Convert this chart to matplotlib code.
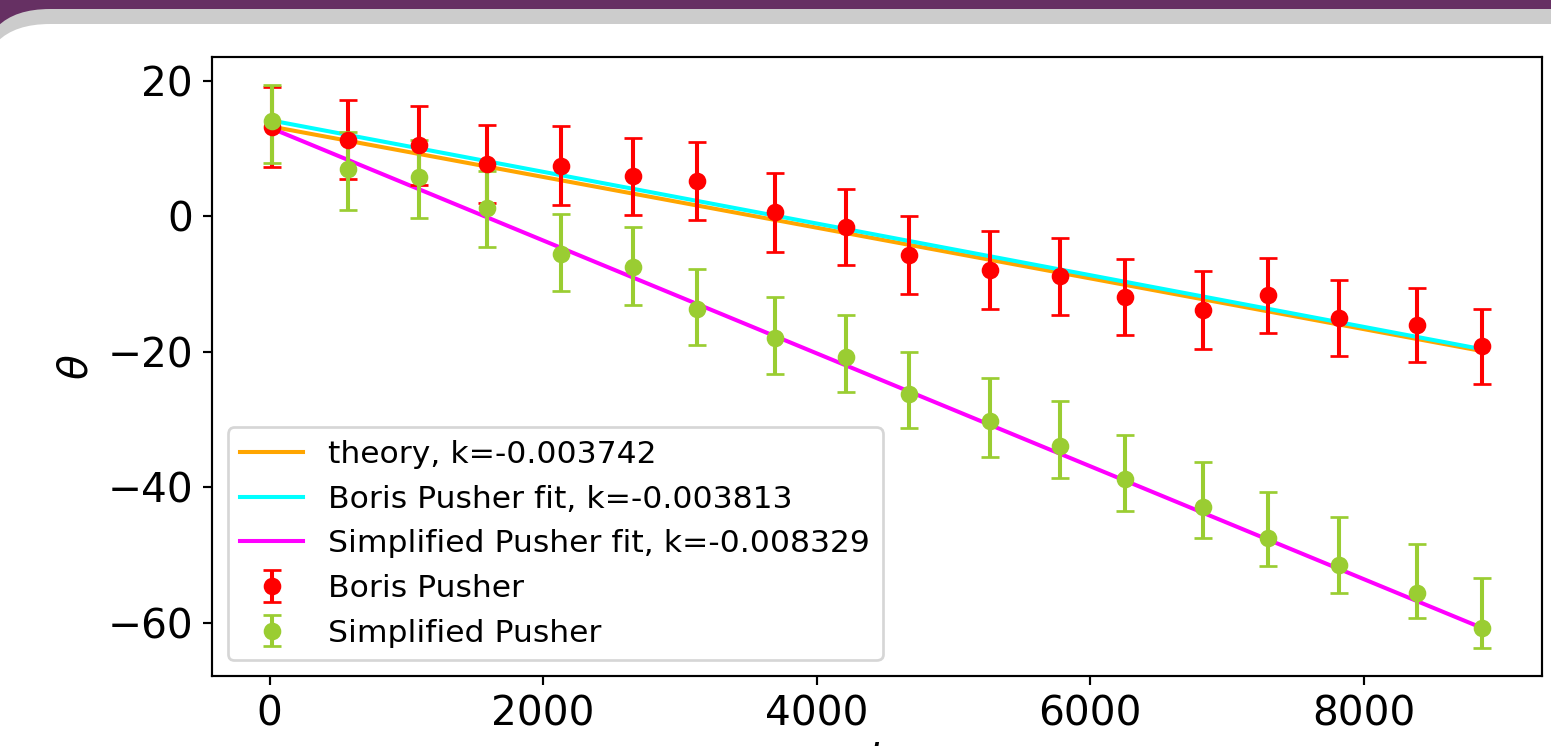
import matplotlib

matplotlib.use("Agg")
import matplotlib.pyplot as plt
from matplotlib.patches import FancyBboxPatch, Rectangle
import numpy as np

# sample times (shared by both pushers)
t = [20, 572, 1095, 1588, 2130, 2654, 3128, 3695, 4217, 4678,
     5268, 5782, 6258, 6828, 7303, 7822, 8392, 8863]

boris_theta = [13.20, 11.34, 10.50, 7.73, 7.50, 5.92, 5.18, 0.59, -1.58, -5.72,
               -7.88, -8.87, -11.87, -13.86, -11.68, -15.04, -16.02, -19.18]
boris_err = [5.84, 5.79, 5.81, 5.82, 5.81, 5.72, 5.74, 5.82, 5.62, 5.74,
             5.72, 5.62, 5.62, 5.74, 5.55, 5.62, 5.52, 5.55]

simple_theta = [14.05, 6.95, 5.77, 1.18, -5.52, -7.54, -13.65, -17.94, -20.70, -26.17,
                -30.27, -33.86, -38.74, -42.88, -47.47, -51.42, -55.60, -60.78]
simple_err_low = [6.17, 5.96, 5.96, 5.72, 5.53, 5.52, 5.32, 5.38, 5.28, 5.13,
                  5.18, 4.73, 4.78, 4.63, 4.18, 4.18, 3.74, 2.91]
simple_err_high = [5.32, 5.47, 5.47, 5.50, 5.86, 5.96, 5.86, 6.00, 6.21, 6.11,
                   6.36, 6.55, 6.46, 6.65, 6.85, 7.05, 7.29, 7.44]

# straight-line models: (intercept, slope)
theory_fit = (13.3, -0.003742)
boris_fit = (14.2, -0.003813)
simple_fit = (13.1, -0.008329)

DPI = 195
fig = plt.figure(figsize=(1551 / DPI, 746 / DPI), dpi=DPI)

# slide background: purple header, grey band, white rounded panel
bg = fig.add_axes([0, 0, 1, 1], zorder=-10)
bg.set_xlim(0, 1551)
bg.set_ylim(746, 0)
bg.axis("off")
bg.add_patch(Rectangle((0, 0), 1551, 120, color="#663063"))
bg.add_patch(FancyBboxPatch((-20, 9), 1700, 900, boxstyle="round,pad=0,rounding_size=70",
                            facecolor="#cccccc", edgecolor="none"))
bg.add_patch(FancyBboxPatch((-20, 24), 1700, 900, boxstyle="round,pad=0,rounding_size=70",
                            facecolor="white", edgecolor="none"))

ax = fig.add_axes([212 / 1551, 1 - 676 / 746, (1542 - 212) / 1551, (676 - 57) / 746])

t_arr = np.array(t)
line_t = np.array([t_arr[0], t_arr[-1]])
ax.plot(line_t, theory_fit[0] + theory_fit[1] * line_t, color="orange", lw=1.5,
        label=f"theory, k={theory_fit[1]}")
ax.plot(line_t, boris_fit[0] + boris_fit[1] * line_t, color="cyan", lw=1.5,
        label=f"Boris Pusher fit, k={boris_fit[1]}")
ax.plot(line_t, simple_fit[0] + simple_fit[1] * line_t, color="magenta", lw=1.5,
        label=f"Simplified Pusher fit, k={simple_fit[1]}")

ax.errorbar(t, boris_theta, yerr=boris_err, fmt="o", color="red", ms=5.5,
            elinewidth=1.5, capsize=3.3, label="Boris Pusher")
ax.errorbar(t, simple_theta, yerr=[simple_err_low, simple_err_high], fmt="o",
            color="yellowgreen", ms=5.5, elinewidth=1.5, capsize=3.3,
            label="Simplified Pusher")

ax.set_xticks([0, 2000, 4000, 6000, 8000])
ax.set_yticks([20, 0, -20, -40, -60])
ax.tick_params(labelsize=15)
ax.set_xlabel("$t$", fontsize=15, labelpad=2)
ax.set_ylabel(r"$\theta$", fontsize=15)
ax.legend(loc="lower left", fontsize=11.6)

fig.savefig("out.png", dpi=DPI)
